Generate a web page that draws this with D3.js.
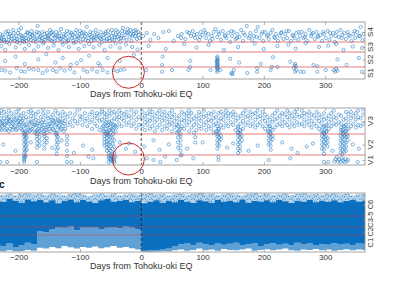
<!DOCTYPE html>
<html>
<head>
<meta charset="utf-8">
<script src="https://cdn.jsdelivr.net/npm/d3@7"></script>
<style>
  body { margin: 0; background: #fff; }
  svg { display: block; font-family: "Liberation Sans", Arial, sans-serif; }
</style>
</head>
<body>
<svg id="chart" width="420" height="287"></svg>
<script>
// ---- data ----
var xTicks = [-200, -100, 0, 100, 200, 300];
var xLabel = "Days from Tohoku-oki EQ";

var sClasses = ["S1", "S2", "S3", "S4"];
var vClasses = ["V1", "V2", "V3"];
var cClasses = ["C1", "C2", "C3-5", "C6"];

// panel 1: rows of [day, value, value, ...]; value in class units (S1 = 0..1, S2 = 1..2 ...)
var sPre = [
  [-231,3.2,3.05],[-230,3.4],[-229,3.05],[-228,3.15,2.6,0.75],[-226,3.35],[-225,3.25],[-224,3.1],[-223,3.0],[-222,2.2,1.4,0.7],
  [-221,3.5],[-220,3.1],[-219,3.0],[-218,3.4],[-217,3.55],[-216,3.25],[-215,2.8],[-214,3.4,0.55],[-213,3.05],[-212,3.3],
  [-211,3.15],[-209,3.6],[-208,3.45],[-207,3.2],[-206,3.05],[-205,2.45,1.7],[-204,3.3],[-203,3.0,0.9],[-202,3.15],[-201,3.45],
  [-200,3.6],[-199,3.1],[-198,2.9],[-197,3.35],[-196,3.7,0.65],[-195,3.3],[-194,3.2],[-193,3.05],[-192,3.15],[-191,3.0],
  [-190,2.3,1.2,0.6],[-189,3.35],[-188,3.2],[-187,3.05],[-186,3.5],[-185,3.45],[-184,3.15],[-183,2.7,0.85],[-182,3.4],
  [-181,3.25],[-180,3.1],[-179,3.55],[-178,3.35],[-177,3.3],[-176,3.05,0.8],[-175,2.15],[-174,3.4],[-173,3.15],[-172,3.0],
  [-171,3.2],[-170,3.5],[-169,3.8],[-168,2.55,1.5,0.75],[-167,3.45],[-166,3.1],[-165,3.25],[-164,3.3],[-163,3.05],[-162,3.2],
  [-161,3.5,0.5],[-160,2.85],[-159,3.0],[-158,3.4],[-157,3.1],[-156,3.25],[-155,1.85],[-154,3.45,0.7],[-153,3.2],
  [-152,3.3,2.4],[-151,3.15],[-150,3.35],[-149,3.6],[-148,3.1],[-147,3.45],[-146,3.05],[-145,3.5],[-144,3.35,0.75],[-143,2.65],
  [-142,3.0],[-141,3.2],[-140,1.3,3.3],[-139,3.5],[-138,0.6],[-137,3.3],[-136,3.1],[-135,2.2],[-134,3.3],[-133,3.45],
  [-132,3.15,0.9],[-131,3.65],[-130,3.2],[-129,3.0],[-128,2.75,1.6],[-127,3.25],[-126,3.4],[-125,0.7],[-124,3.2],[-123,3.35],
  [-122,3.0],[-121,3.55],[-120,3.05],[-119,3.1],[-118,2.5],[-117,3.5],[-116,3.3,0.85],[-115,1.15],[-114,3.45],[-113,3.2],
  [-112,3.35],[-111,3.05],[-110,2.9],[-109,3.25,0.55],[-108,3.45],[-107,3.0],[-106,3.6],[-105,1.25],[-104,3.15],[-103,3.3],
  [-102,3.2,2.3],[-101,3.4],[-100,3.55],[-99,3.0],[-98,1.45],[-97,3.45],[-96,3.3],[-95,3.15],[-94,3.5,0.75],[-93,2.6],
  [-92,3.3],[-91,3.1],[-90,3.4],[-89,3.75],[-88,0.6],[-87,3.05],[-86,3.2],[-85,2.8,1.75],[-84,3.35],[-83,3.5],[-82,3.25],
  [-81,3.05],[-80,0.8],[-79,3.45],[-78,2.45,3.2],[-77,3.1],[-76,3.25],[-74,3.6],[-73,3.3],[-72,3.4,0.6],[-71,3.1],[-70,1.25],
  [-69,3.3],[-68,2.7],[-67,3.2,1.1],[-66,3.5],[-65,3.15],[-64,3.0],[-63,0.75],[-62,3.35],[-61,3.2],[-60,2.2],[-59,3.4],
  [-58,3.5],[-57,3.05],[-56,3.15],[-55,1.6,0.55],[-54,3.55],[-53,3.35],[-52,3.2],[-51,3.05],[-50,2.55],[-49,3.3],[-48,3.6],
  [-47,3.1],[-46,3.45],[-45,0.75],[-44,3.1],[-43,3.25],[-42,3.35,2.85],[-41,3.6],[-39,3.25,0.65],[-38,3.5],[-37,3.15],
  [-36,3.4],[-35,2.4,1.4],[-34,3.0,0.75],[-33,3.2],[-32,3.3],[-31,3.55],[-30,3.7],[-29,3.2],[-28,0.8],[-27,3.5],[-26,3.35],
  [-25,2.75],[-24,3.1],[-23,3.45],[-22,3.65],[-21,3.5],[-19,3.25],[-18,3.6],[-17,3.4],[-16,3.05],[-15,2.5],[-14,3.3],
  [-13,3.4],[-12,3.55,1.8],[-10,3.3],[-9,3.6],[-8,3.45],[-7,3.15],[-6,2.25],[-5,3.5],[-4,3.35],[-3,3.2]
];
var sPost = [
  [3,3.3],[8,0.75],[9,3.45],[12,2.6],[15,3.1],[21,3.4],[28,3.2],[34,0.6,1.13],[35,1.7],[36,3.5],[40,2.3],[45,3.55],
  [50,0.75],[53,3.05],[60,3.3],[65,3.2],[66,3.4],[70,2.8],[72,3.15],[75,3.5],[77,0.75],[78,3.45],[80,1.4,1.0],[81,3.3],
  [84,3.55],[86,3.35],[88,3.2],[90,2.45],[91,3.4],[94,3.1],[96,3.25],[97,3.5],[100,3.35],[103,3.6],[105,3.45],[106,3.2],
  [109,3.4],[110,2.7],[112,3.05],[113,0.75],[115,3.3],[116,3.15],[118,3.5],[121,3.65],[123,1.05,1.35],
  [124,3.25,0.6,0.75,0.9,1.0,1.1,1.2,1.3,1.4,1.5,1.6,1.7],[125,0.85,1.15,1.45],[126,3.5],[127,3.4],[129,0.75],[130,3.1],
  [133,3.55],[135,2.2],[136,3.35],[137,3.3],[139,3.2],[142,3.45],[145,3.0,1.55],[147,0.45,3.55],[148,3.3,0.5],[149,0.42],
  [151,3.5,0.75],[154,3.15],[156,3.2],[157,3.4],[158,2.5],[160,3.25,1.3],[163,3.6],[166,3.05],[167,3.45],[169,3.35],
  [172,3.8],[173,0.5],[175,3.2],[177,3.3],[178,3.45],[181,3.1],[184,3.3],[185,2.85],[187,3.55],[188,3.25],[189,0.9,0.6],
  [190,3.75],[193,3.2],[195,1.2],[196,3.4],[198,3.5],[199,3.05],[200,2.3],[202,3.5],[205,3.3],[207,3.35],[208,3.15],
  [211,3.45,0.75],[213,1.0],[214,3.6],[215,1.65],[217,3.25],[218,3.2],[220,3.4],[222,2.6,1.0],[223,3.05],[226,3.3],
  [228,3.45],[229,3.5],[232,3.15],[235,3.4],[237,3.55],[238,3.2],[240,2.75],[241,3.55],[243,1.35],[244,3.05],[247,3.35],
  [248,3.3],[249,0.9],[250,3.2,1.1],[251,0.6,1.2],[252,2.35,1.05],[253,3.45,0.75],[256,3.1],[257,3.5],[259,3.3],[260,0.6],
  [262,3.5],[265,3.2,0.6],[267,3.25],[268,3.4,2.9],[271,3.05],[274,3.6],[277,3.3],[278,3.4],[280,3.45],[281,1.13],
  [283,3.15],[286,3.5],[287,0.6,1.05],[288,3.3],[289,3.25],[290,2.5],[292,3.35],[295,3.05],[297,3.5],[298,3.4],
  [301,3.2,0.75],[304,3.55],[305,2.65],[307,3.1],[308,3.45],[310,3.3],[313,3.45],[314,0.75],[316,3.0,0.6],[317,3.3],
  [318,2.8,0.85],[319,3.5],[320,1.5,0.7],[322,3.25],[325,3.6],[327,3.2],[328,3.35],[330,2.2],[331,3.45],[334,3.15],
  [335,1.15],[337,3.5],[338,3.35],[340,3.3],[343,3.05],[345,2.55],[346,3.4],[348,3.55],[349,3.2],[352,3.5],[355,3.3,1.6],
  [357,3.3],[358,3.75],[360,2.4,0.6],[361,3.1],[363,3.4]
];

// panel 2: V3 band, its densest stretches, streaks reaching down into V2/V1, and scattered low points
var vBand = [
  [-232,2.3,2.55,2.8],[-228,2.15,2.45,2.7,2.9],[-224,2.35,2.6,2.85],[-220,2.2,2.5,2.75],[-216,2.1,2.4,2.65,2.9],
  [-212,2.3,2.55,2.8],[-208,2.25,2.45,2.7],[-204,2.15,2.6,2.85],[-200,2.35,2.5,2.75,2.95],[-196,2.2,2.45,2.7],
  [-192,2.05,2.3,2.6,2.8],[-188,2.1,2.4,2.65],[-184,2.25,2.55,2.85],[-180,2.15,2.45,2.7,2.9],[-176,2.3,2.6,2.8],
  [-172,2.1,2.35,2.55,2.75],[-168,2.2,2.5,2.85],[-164,2.05,2.4,2.65],[-160,2.25,2.55,2.8,2.95],[-156,2.15,2.45,2.7],
  [-152,2.3,2.6,2.85],[-148,2.1,2.4,2.65],[-144,2.2,2.5,2.75],[-140,2.05,2.35,2.6,2.9],[-136,2.25,2.55,2.8],
  [-132,2.15,2.45,2.7],[-128,2.3,2.6,2.85],[-124,2.2,2.5,2.75],[-120,2.35,2.65],[-116,2.45,2.8],[-112,2.3,2.6],
  [-108,2.5,2.75],[-104,2.4,2.9],[-100,2.55,2.7],[-96,2.35,2.65],[-92,2.5,2.8],[-88,2.3,2.6],[-84,2.45,2.75],
  [-80,2.2,2.55,2.85],[-76,2.4,2.7],[-72,2.3,2.6,2.8],[-68,2.15,2.5,2.75],[-64,2.25,2.55,2.85,2.95],[-60,2.1,2.4,2.65,2.8],
  [-56,2.05,2.3,2.55,2.75],[-52,2.15,2.45,2.7,2.9],[-48,2.2,2.5,2.8],[-44,2.35,2.6,2.85],[-40,2.25,2.55,2.75],
  [-36,2.4,2.65,2.9],[-32,2.3,2.6,2.8],[-28,2.5,2.75],[-24,2.35,2.65,2.85],[-20,2.45,2.7],[-16,2.3,2.6,2.9],
  [-12,2.4,2.75],[-8,2.2,2.55,2.85],[-4,2.35,2.65],
  [2,2.3,2.6,2.85],[6,2.15,2.45,2.7],[10,2.35,2.55,2.8],[14,2.2,2.5,2.75,2.95],[18,2.3,2.6,2.85],[22,2.1,2.45,2.7],
  [26,2.25,2.55,2.8],[30,2.35,2.65,2.9],[34,2.15,2.5,2.75],[38,2.3,2.6,2.85],[42,2.2,2.45,2.7],[46,2.35,2.55,2.8],
  [50,2.1,2.4,2.65,2.9],[54,2.25,2.5,2.75],[58,2.05,2.35,2.6],[62,2.15,2.45,2.7],[66,2.3,2.55,2.85],[70,2.2,2.5,2.75],
  [74,2.35,2.6,2.8],[78,2.1,2.45,2.7,2.9],[82,2.25,2.55,2.8],[86,2.05,2.35,2.6],[90,2.15,2.45,2.7],[94,2.3,2.6,2.85],
  [98,2.2,2.5,2.75],[102,2.35,2.65,2.9],[106,2.15,2.45,2.7],[110,2.3,2.55,2.8],[114,2.2,2.5,2.75],[118,2.05,2.35,2.6,2.85],
  [122,2.1,2.4,2.65],[126,2.2,2.5,2.8],[130,2.35,2.6,2.85],[134,2.25,2.55,2.75],[138,2.4,2.7,2.9],[142,2.3,2.6,2.8],
  [146,2.45,2.75],[150,2.35,2.65,2.85],[154,2.15,2.5,2.75],[158,2.05,2.3,2.6],[162,2.1,2.4,2.7],[166,2.2,2.5,2.8],
  [170,2.35,2.65,2.9],[174,2.45,2.7],[178,2.3,2.6,2.85],[182,2.4,2.75],[186,2.25,2.55,2.8],[190,2.35,2.65,2.9],
  [194,2.45,2.7],[198,2.3,2.6,2.85],[202,2.2,2.5,2.75],[206,2.1,2.4,2.65],[210,2.05,2.3,2.55],[214,2.15,2.45,2.7],
  [218,2.25,2.55,2.8],[222,2.35,2.6,2.9],[226,2.4,2.7],[230,2.3,2.55,2.8],[234,2.45,2.75],[238,2.35,2.65,2.9],
  [242,2.25,2.55,2.8],[246,2.4,2.7],[250,2.3,2.6,2.85],[254,2.45,2.75,2.95],[258,2.35,2.65],[262,2.4,2.7,2.9],
  [266,2.3,2.55,2.8],[270,2.45,2.75],[274,2.35,2.6,2.85],[278,2.25,2.5,2.75],[282,2.4,2.7],[286,2.3,2.6,2.85],
  [290,2.2,2.5,2.75],[294,2.1,2.4,2.65],[298,2.05,2.3,2.55,2.8],[302,2.1,2.35,2.6],[306,2.2,2.45,2.7],[310,2.3,2.55,2.8],
  [314,2.4,2.65,2.9],[318,2.35,2.6],[322,2.45,2.75],[326,2.15,2.4,2.7],[330,2.05,2.3,2.55],[334,2.1,2.35,2.6,2.85],
  [338,2.2,2.45,2.75],[342,2.3,2.6,2.85],[346,2.4,2.7],[350,2.25,2.55,2.8],[354,2.35,2.65,2.9],[358,2.3,2.6],
  [362,2.4,2.75,2.95]
];
var vDense = [
  [-230,2.4,2.2],[-226,2.5,2.3],[-222,2.35,2.15],[-218,2.45,2.6],[-214,2.2,2.5],[-210,2.4,2.15],[-206,2.3,2.55],
  [-202,2.45,2.2],[-198,2.35,2.6],[-194,2.15,2.5],[-190,2.1,2.35,2.0],[-186,2.25,2.05],[-182,2.4,2.1],[-178,2.2,2.45],
  [-174,2.35,2.05],[-170,2.15,2.4,2.0],[-166,2.3,2.1],[-162,2.45,2.2],[-158,2.1,2.35,2.0],[-154,2.25,2.05],[-150,2.4,2.2],
  [-146,2.3,2.55],[-142,2.15,2.45],[-138,2.4,2.05,2.0],[-134,2.3,2.5],[-130,2.2,2.45],[-126,2.4,2.1],
  [-62,2.3,2.1],[-58,2.2,2.0,2.45],[-54,2.35,2.1,2.0],[-50,2.25,2.05,2.4],[-46,2.15,2.0,2.35],[-42,2.3,2.1],
  [60,2.3,2.1],[64,2.2,2.0],[124,2.3,2.1,2.0],[127,2.2,2.05],[158,2.25,2.05],[161,2.15,2.0],[208,2.3,2.1],[211,2.2,2.0],
  [296,2.25,2.05],[299,2.15,2.0],[302,2.3,2.1],[326,2.25,2.05],[329,2.15,2.0],[332,2.3,2.1],[335,2.2,2.0]
];
var vStreaks = [
  [-191,1.9,1.7,1.5,1.3,1.1,0.9,0.7,0.5,0.3],[-189,1.95,1.8,1.6,1.4,1.2,1.0,0.8],[-187,1.85,1.65,1.45,1.25],
  [-170,1.9,1.75,1.55,1.35],[-166,1.85,1.65,1.45],[-158,1.9,1.7,1.5,1.3],[-154,1.8,1.6],
  [-138,1.9,1.7,1.5,1.25,1.05],[-136,1.85,1.6,1.35],[-121,1.9,1.7,1.5,1.2,0.9],
  [-60,1.9,1.75,1.6,1.45],[-56,1.95,1.8,1.65,1.5,1.35,1.2],[-53,1.9,1.7,1.5,1.3,1.1,0.9,0.7],
  [-50,1.85,1.6,1.4,1.2,1.0,0.8,0.6,0.45],[-47,1.8,1.55,1.3,1.05,0.8,0.55,0.35],[-44,1.7,1.4,1.1,0.75,0.45,0.3],
  [60,1.85,1.6,1.35],[64,1.9,1.7,1.45,1.2,0.95],[88,1.85,1.6],
  [124,1.9,1.7,1.5,1.3],[127,1.85,1.65,1.45],[130,1.9,1.75],
  [158,1.9,1.7,1.5,1.3,1.1],[161,1.85,1.6,1.4,1.2],[164,1.9,1.7],
  [208,1.9,1.7,1.5],[211,1.85,1.65,1.45,1.25],[214,1.9,1.75],
  [295,1.9,1.7,1.5,1.3],[298,1.85,1.65,1.45,1.25,1.05],[301,1.9,1.75,1.55],[304,1.8,1.6,1.4],
  [325,1.9,1.7,1.5,1.3,1.1],[328,1.85,1.65,1.45,1.25,1.05],[331,1.9,1.75,1.55,1.35,1.15],[334,1.85,1.6,1.4,1.2],[337,1.9,1.7]
];
var vSparse = [
  [-230,0.3],[-225,1.5],[-219,0.3],[-205,1.2],[-180,1.6],[-170,0.3],[-145,1.35],[-130,1.7],[-121,0.3],[-114,0.3],
  [-110,1.1],[-95,1.45],[-86,0.83],[-80,1.25],[-78,0.67],[-53,0.3],[-42,0.83],[-35,1.6],[-25,1.3],[-20,1.55],[-10,1.15],
  [5,1.4],[9,0.67],[20,1.7,0.5],[30,1.25],[31,0.3],[39,0.83],[45,1.5],[58,0.5],[66,1.0],[75,1.3],[85,0.67],[100,1.6],
  [126,0.8,0.5],[140,1.35],[150,1.55],[175,1.2],[190,1.45],[208,0.5],[230,1.6],[243,0.67],[245,1.3],[255,1.1],[270,1.4],
  [280,1.55],[298,0.3],[305,0.3],[312,1.2],[315,0.35],[317,0.6],[319,0.8],[321,0.35],[323,0.55],[325,0.3],[327,0.7],
  [329,0.45],[331,0.3],[333,0.6],[335,0.35],[337,0.5],[345,1.5],[353,0.3],[355,1.3]
];

// panel 3: point cloud too dense to list; 10-day bins with envelope of the cloud
var cDays = [-235,-225,-215,-205,-195,-185,-175,-165,-155,-145,-135,-125,-115,-105,-95,-85,-75,-65,-55,-45,-35,-25,-15,-5,
  5,15,25,35,45,55,65,75,85,95,105,115,125,135,145,155,165,175,185,195,205,215,225,235,245,255,265,275,285,295,305,315,325,335,345,355,365];
var cTop = [3.97,3.92,3.98,3.9,3.96,3.99,3.93,3.97,3.91,3.98,3.94,3.9,3.96,3.99,3.93,3.88,3.95,3.97,3.92,3.98,3.9,3.94,3.96,3.92,
  3.96,3.99,3.93,3.97,3.9,3.95,3.98,3.92,3.96,3.99,3.93,3.97,3.91,3.95,3.98,3.94,3.9,3.96,3.99,3.93,3.97,3.92,3.95,3.98,3.91,3.96,3.99,3.94,3.97,3.92,3.96,3.98,3.93,3.97,3.9,3.95,3.98];
var cCoreTop = [3.7,3.62,3.75,3.66,3.58,3.72,3.64,3.7,3.6,3.68,3.55,3.66,3.72,3.6,3.7,3.63,3.57,3.68,3.74,3.62,3.66,3.7,3.6,3.65,
  3.55,3.62,3.68,3.58,3.66,3.6,3.7,3.62,3.56,3.68,3.64,3.58,3.7,3.62,3.66,3.6,3.72,3.58,3.65,3.62,3.68,3.6,3.7,3.64,3.57,3.66,3.62,3.7,3.6,3.66,3.62,3.68,3.6,3.65,3.7,3.62,3.66];
var cCoreBottom = [0.45,0.35,0.5,0.3,0.4,0.55,0.45,1.5,1.35,1.7,2.0,1.9,2.05,1.6,2.0,1.95,2.0,1.75,1.9,2.0,1.85,2.05,1.95,1.7,
  0.08,0.1,0.12,0.15,0.2,0.35,0.45,0.5,0.4,0.55,0.45,0.38,0.5,0.42,0.48,0.55,0.4,0.45,0.5,0.36,0.46,0.52,0.42,0.48,0.4,0.55,0.45,0.5,0.38,0.46,0.42,0.52,0.44,0.48,0.4,0.5,0.45];
var cBottom = [0.08,0.05,0.1,0.04,0.06,0.12,0.08,0.25,0.2,0.3,0.22,0.35,0.28,0.2,0.3,0.25,0.32,0.22,0.28,0.35,0.25,0.3,0.22,0.15,
  0.02,0.02,0.03,0.04,0.05,0.1,0.15,0.08,0.12,0.2,0.1,0.14,0.08,0.18,0.12,0.1,0.15,0.2,0.08,0.12,0.16,0.1,0.14,0.2,0.1,0.08,0.15,0.12,0.18,0.1,0.14,0.08,0.12,0.16,0.1,0.15,0.12];

// red circles marking the pre-EQ window (day, value in class units)
var marks = [{panel: 0, day: -21, v: 0.56}, {panel: 1, day: -21, v: 0.6}];

// ---- drawing ----
var svg = d3.select("#chart");
var blue = "#0b6fbf";
var redLine = "#d63c3c";

var x = d3.scaleLinear().domain([-365, 365]).range([-82.5, 365]);
var xMid = (x.range()[0] + x.range()[1]) / 2;

// labelAt: where each class name sits on the right edge, in class units
var panels = [
  {classes: sClasses, yr: [79, 67, 52, 42, 22], labelAt: [0.5, 1.5, 2.5, 3.5],
    tickY: 3, labelY: 96.5, lineOpacity: 0.75, classFont: 8},
  {classes: vClasses, yr: [165, 155, 134, 108], labelAt: [0.5, 1.5, 2.5],
    tickY: 3, labelY: 183.5, lineOpacity: 0.75, classFont: 8},
  {classes: cClasses, yr: [252, 235, 227, 216, 193], labelAt: [0.55, 1.4, 2.67, 3.5],
    tickY: 2.5, labelY: 269, lineOpacity: 0.55, classFont: 7.5}
];
panels.forEach(function (p) {
  p.y = d3.scaleLinear().domain(d3.range(p.yr.length)).range(p.yr);
  p.top = p.yr[p.yr.length - 1];
  p.bottom = p.yr[0];
});

var defs = svg.append("defs");
panels.forEach(function (p, i) {
  defs.append("clipPath").attr("id", "clip" + i)
    .append("rect").attr("x", x.range()[0]).attr("y", p.top)
    .attr("width", x.range()[1] - x.range()[0]).attr("height", p.bottom - p.top);
});
var speck = defs.append("pattern").attr("id", "speck")
  .attr("width", 7).attr("height", 5).attr("patternUnits", "userSpaceOnUse");
speck.append("rect").attr("width", 7).attr("height", 5).attr("fill", blue).attr("opacity", 0.3);
[[1, 1], [4.2, 2.8], [6.1, 0.6], [2.4, 4.1], [5.3, 4.4]].forEach(function (c) {
  speck.append("rect").attr("x", c[0]).attr("y", c[1]).attr("width", 0.9).attr("height", 0.9).attr("fill", blue);
});

function flatten(rows) {
  var out = [];
  rows.forEach(function (r) {
    for (var k = 1; k < r.length; k++) out.push([r[0], r[k]]);
  });
  return out;
}

function drawDots(g, p, rows) {
  g.selectAll(null).data(flatten(rows)).enter().append("circle")
    .attr("cx", function (d) { return x(d[0]); })
    .attr("cy", function (d) { return p.y(d[1]); })
    .attr("r", 1.6)
    .attr("fill", "none")
    .attr("stroke", "#2f82c6")
    .attr("stroke-width", 0.7)
    .attr("stroke-opacity", 0.85);
}

// panel contents
var g0 = svg.append("g").attr("clip-path", "url(#clip0)");
drawDots(g0, panels[0], sPre);
drawDots(g0, panels[0], sPost);

var g1 = svg.append("g").attr("clip-path", "url(#clip1)");
drawDots(g1, panels[1], vBand);
drawDots(g1, panels[1], vDense);
drawDots(g1, panels[1], vStreaks);
drawDots(g1, panels[1], vSparse);

var g2 = svg.append("g").attr("clip-path", "url(#clip2)");
var cBins = cDays.map(function (d, i) {
  return {d: d, top: cTop[i], coreTop: cCoreTop[i], coreBottom: cCoreBottom[i], bottom: cBottom[i]};
});
var y3 = panels[2].y;
function band(a, b) {
  return d3.area().curve(d3.curveStep)
    .x(function (d) { return x(d.d); })
    .y0(function (d) { return y3(d[a]); })
    .y1(function (d) { return y3(d[b]); });
}
g2.append("path").datum(cBins).attr("d", band("coreTop", "top")).attr("fill", "url(#speck)");
g2.append("path").datum(cBins).attr("d", band("bottom", "coreBottom")).attr("fill", blue).attr("opacity", 0.65);
g2.append("path").datum(cBins).attr("d", band("coreBottom", "coreTop")).attr("fill", blue);

// class boundaries, zero line, box, axes
panels.forEach(function (p, i) {
  var g = svg.append("g");
  d3.range(1, p.classes.length).forEach(function (b) {
    g.append("line").attr("x1", x.range()[0]).attr("x2", x.range()[1])
      .attr("y1", p.y(b)).attr("y2", p.y(b))
      .attr("stroke", redLine).attr("stroke-width", 0.9).attr("stroke-opacity", p.lineOpacity);
  });
  g.append("line").attr("x1", x(0)).attr("x2", x(0)).attr("y1", p.top).attr("y2", p.bottom)
    .attr("stroke", "#111").attr("stroke-width", 0.7).attr("stroke-dasharray", "3,2");
  g.append("rect").attr("x", x.range()[0]).attr("y", p.top)
    .attr("width", x.range()[1] - x.range()[0]).attr("height", p.bottom - p.top)
    .attr("fill", "none").attr("stroke", "#8c8c8c").attr("stroke-width", 0.8);

  var bottomAxis = g.append("g").attr("transform", "translate(0," + p.bottom + ")")
    .call(d3.axisBottom(x).tickValues(xTicks).tickSize(-3).tickPadding(p.tickY));
  var topAxis = g.append("g").attr("transform", "translate(0," + p.top + ")")
    .call(d3.axisTop(x).tickValues(xTicks).tickSize(-3).tickFormat(""));
  var rightAxis = g.append("g").attr("transform", "translate(" + x.range()[1] + ",0)")
    .call(d3.axisRight(p.y).tickValues(p.labelAt).tickSize(-2.5).tickFormat(""));
  [bottomAxis, topAxis, rightAxis].forEach(function (a) {
    a.select(".domain").remove();
    a.selectAll(".tick line").attr("stroke", "#8c8c8c").attr("stroke-width", 0.7);
  });
  bottomAxis.selectAll("text").attr("font-size", 8).attr("fill", "#333")
    .attr("font-family", "Liberation Sans, Arial, sans-serif");

  g.append("text").attr("x", xMid).attr("y", p.labelY).attr("text-anchor", "middle")
    .attr("font-size", 9).attr("fill", "#333").text(xLabel);

  g.selectAll(null).data(p.classes).enter().append("text")
    .attr("transform", function (c, k) { return "translate(373," + p.y(p.labelAt[k]) + ") rotate(-90)"; })
    .attr("text-anchor", "middle").attr("font-size", p.classFont).attr("fill", "#333")
    .text(function (c) { return c; });
});

// panel letter, cut by the crop
svg.append("text").attr("x", -1).attr("y", 188).attr("font-size", 10).attr("font-weight", "bold")
  .attr("fill", "#111").text("c");

// red circles
svg.selectAll(null).data(marks).enter().append("circle")
  .attr("cx", function (m) { return x(m.day); })
  .attr("cy", function (m) { return panels[m.panel].y(m.v); })
  .attr("r", 16)
  .attr("fill", "none").attr("stroke", "#cc2b2b").attr("stroke-width", 1);
</script>
</body>
</html>
